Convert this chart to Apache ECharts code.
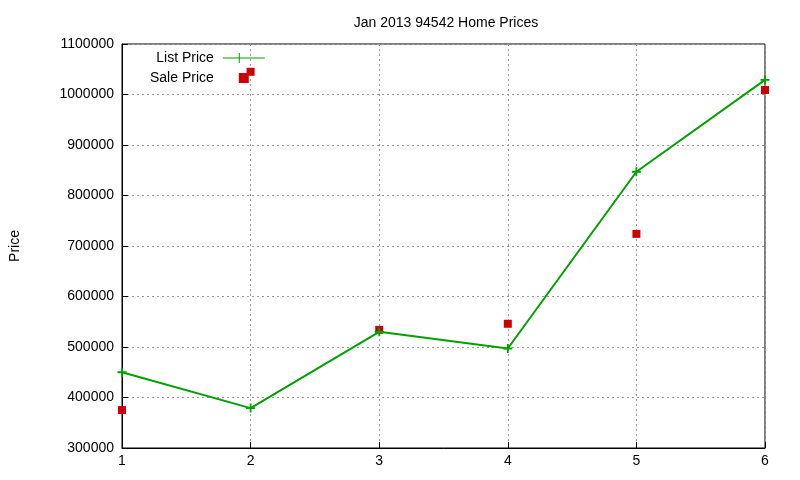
<!DOCTYPE html>
<html>
<head>
<meta charset="utf-8">
<script src="https://cdn.jsdelivr.net/npm/echarts@6/dist/echarts.min.js"></script>
<style>html,body{margin:0;padding:0;background:#fff}#chart{width:800px;height:480px}</style>
</head>
<body>
<div id="chart"></div>
<script>
var months = [1, 2, 3, 4, 5, 6];
var listPrice = [450000, 379000, 530000, 497000, 847000, 1029000];
var salePrice = [375000, 1045000, 534000, 546000, 724000, 1009000];

var chart = echarts.init(document.getElementById('chart'));

function pairs(vals) {
    return months.map(function (m, i) { return [m, vals[i]]; });
}

var font = 'Liberation Sans, Arial, sans-serif';

option = {
    animation: false,
    title: {
        text: 'Jan 2013 94542 Home Prices',
        left: 441,
        top: 11,
        textAlign: 'center',
        textStyle: { fontSize: 14, fontWeight: 'normal', color: '#000', fontFamily: font }
    },
    legend: {
        orient: 'vertical',
        left: 145,
        top: 46,
        align: 'right',
        itemGap: 6,
        itemWidth: 42,
        itemHeight: 10,
        textStyle: { fontSize: 14, color: '#000', fontFamily: font, padding: [0, 4, 0, 0] },
        data: [
            { name: 'List Price', icon: 'path://M0,4.5L16,4.5L16,0L17,0L17,4.5L42,4.5L42,5.5L17,5.5L17,10L16,10L16,5.5L0,5.5Z',
              itemStyle: { color: '#00a000' } },
            { name: 'Sale Price', icon: 'path://M17,0.5L25,0.5L25,8.5L17,8.5Z',
              itemStyle: { color: '#cc0000' } }
        ]
    },
    grid: {
        left: 118, right: 35, top: 44, bottom: 32,
        show: true, borderColor: '#000', borderWidth: 1
    },
    xAxis: {
        type: 'value', min: 1, max: 6, interval: 1,
        axisLine: { lineStyle: { color: '#000' } },
        axisTick: { inside: true, length: 6, lineStyle: { color: '#000' } },
        axisLabel: { fontSize: 14, color: '#000', fontFamily: font, margin: 6 },
        splitLine: { show: true, lineStyle: { color: '#999', type: [2, 3] } }
    },
    yAxis: {
        type: 'value', min: 300000, max: 1100000, interval: 100000,
        name: 'Price', nameLocation: 'middle', nameGap: 100,
        nameTextStyle: { fontSize: 14, color: '#000', fontFamily: font },
        axisLine: { show: true, lineStyle: { color: '#000' } },
        axisTick: { inside: true, length: 6, lineStyle: { color: '#000' } },
        axisLabel: { fontSize: 14, color: '#000', fontFamily: font, margin: 8,
            formatter: function (v) { return String(v); } },
        splitLine: { show: true, lineStyle: { color: '#999', type: [2, 3] } }
    },
    series: [
        {
            name: 'List Price',
            type: 'line',
            data: pairs(listPrice),
            symbol: 'path://M4,0L6,0L6,4L10,4L10,6L6,6L6,10L4,10L4,6L0,6L0,4L4,4Z',
            symbolSize: 9,
            itemStyle: { color: '#00a000' },
            lineStyle: { color: '#00a000', width: 2 }
        },
        {
            name: 'Sale Price',
            type: 'scatter',
            data: pairs(salePrice),
            symbol: 'rect',
            symbolSize: 8,
            itemStyle: { color: '#cc0000', opacity: 1 }
        }
    ]
};

chart.setOption(option);
</script>
</body>
</html>
